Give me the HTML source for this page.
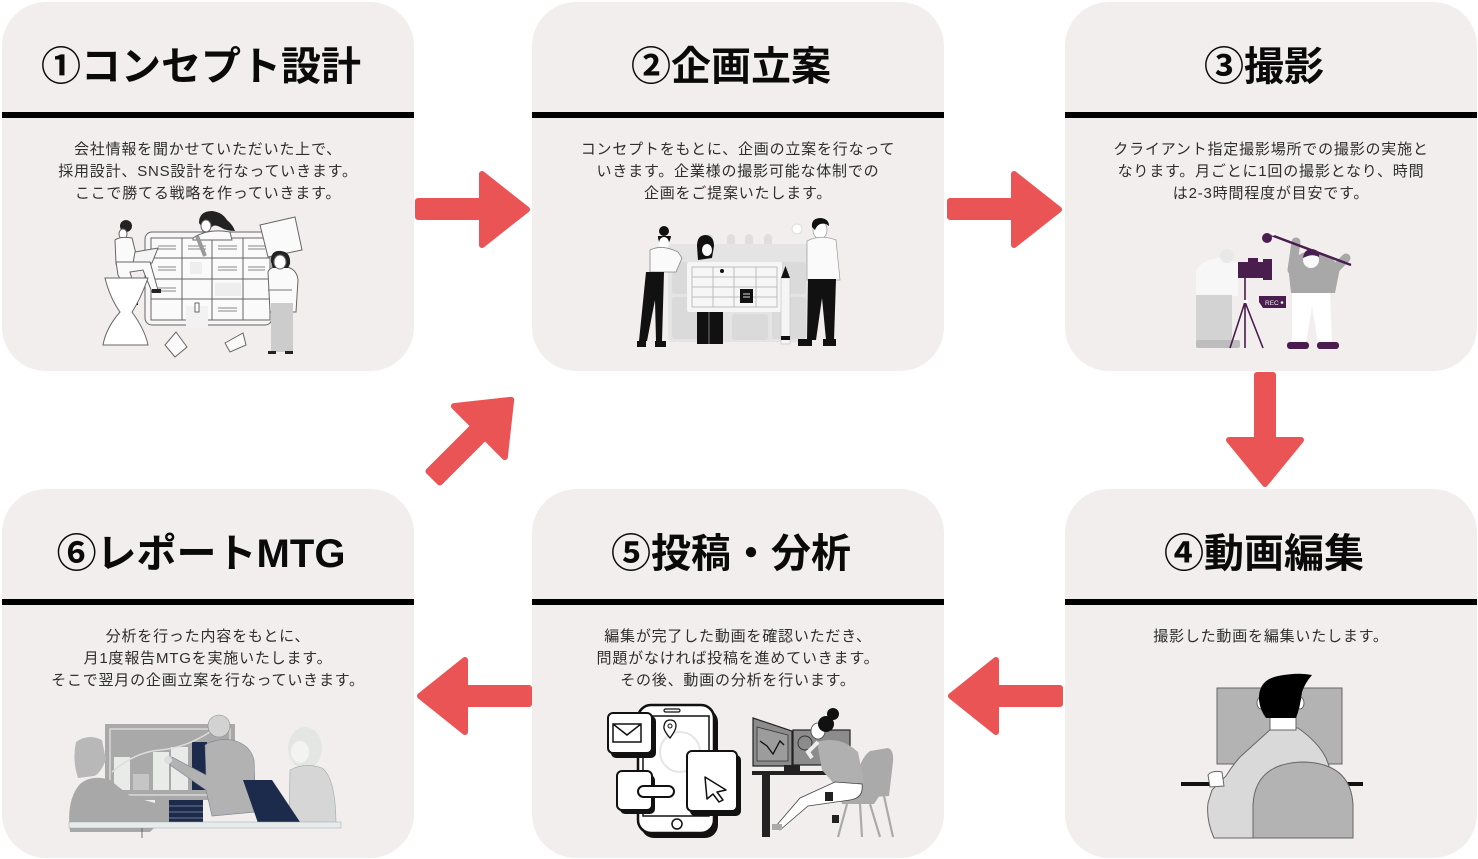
<!DOCTYPE html>
<html><head><meta charset="utf-8">
<style>
html,body{margin:0;padding:0;background:#fff;}
body{width:1478px;height:859px;position:relative;overflow:hidden;}
svg{position:absolute;left:0;top:0;}
.t{position:absolute;width:412px;text-align:center;font-family:"Liberation Sans","Noto Sans CJK JP",sans-serif;font-weight:700;font-size:40px;line-height:40px;color:#0a0a0a;white-space:nowrap;}
.d{position:absolute;width:412px;text-align:center;font-family:"Liberation Sans","Noto Sans CJK JP",sans-serif;font-size:15px;line-height:22px;letter-spacing:0.8px;color:#2e2e2e;white-space:nowrap;}
</style></head><body>
<svg width="1478" height="859" viewBox="0 0 1478 859" xmlns="http://www.w3.org/2000/svg">
<!-- cards -->
<g fill="#F3EEEE">
<rect x="2" y="2" width="412" height="369" rx="44"/>
<rect x="532" y="2" width="412" height="369" rx="44"/>
<rect x="1065" y="2" width="412" height="369" rx="44"/>
<rect x="2" y="489" width="412" height="369" rx="44"/>
<rect x="532" y="489" width="412" height="369" rx="44"/>
<rect x="1065" y="489" width="412" height="369" rx="44"/>
</g>
<g fill="#000">
<rect x="2" y="112" width="412" height="6"/>
<rect x="532" y="112" width="412" height="6"/>
<rect x="1065" y="112" width="412" height="6"/>
<rect x="2" y="599" width="412" height="6"/>
<rect x="532" y="599" width="412" height="6"/>
<rect x="1065" y="599" width="412" height="6"/>
</g>
<!-- arrows -->
<g fill="#EB5454" stroke="#EB5454" stroke-width="6" stroke-linejoin="round">
<path d="M418 201H482V174L527 209.5L482 245V217H418Z"/>
<path d="M950 201H1014V174L1059 209.5L1014 245V217H950Z"/>
<path d="M529 688H465V660L420 696L465 732V704H529Z"/>
<path d="M1060 688H996V660L951 696L996 732V704H1060Z"/>
<path d="M1257 375V440H1229L1265 484L1301 440H1273V375Z"/>
<path transform="translate(432,479) rotate(-45)" d="M3 -8H67V-36L112 0L67 36V8H3Z"/>
</g>

<!-- ===== Card 1 illustration ===== -->
<g stroke="#666" stroke-width="1">
<rect x="145" y="232" width="127" height="93" rx="7" fill="#f7f5f5"/>
<rect x="151" y="238" width="119" height="82" fill="#fafafa"/>
<path d="M182 238V320M212 238V320M243 238V320M151 258H270M151 279H270M151 299H270" fill="none"/>
<path d="M158 246H176M158 249H176M188 246H206M188 249H206M218 246H237M218 249H237M248 246H265M248 249H265M158 267H176M158 270H176M218 267H237M218 270H237M248 267H265M248 270H265M158 288H176M158 291H176M218 308H237M218 311H237" stroke="#888" fill="none"/>
<rect x="190" y="262" width="12" height="12" fill="#eeeeee" stroke="none"/>
<rect x="215" y="283" width="26" height="13" fill="#eeeeee" stroke="none"/>
<rect x="186" y="306" width="22" height="22" fill="#f2f2f2" stroke="none"/>
<rect x="195" y="303" width="4" height="9" fill="#fff"/>
<polygon points="260,225 295,217 302,250 268,257" fill="#fafafa"/>
<!-- top woman -->
<path d="M193 238Q208 228 230 232L232 240L193 240Z" fill="#fafafa"/>
<path d="M199 223Q199 211 212 211Q222 212 227 220Q233 225 235 231Q226 231 220 227Q214 224 212 227L204 230Z" fill="#222" stroke="none"/>
<ellipse cx="206" cy="226" rx="5" ry="6" fill="#fff"/>
<path d="M197 236L205 256" stroke="#999" stroke-width="4"/>
<!-- sitting woman -->
<circle cx="126" cy="226" r="6" fill="#222" stroke="none"/>
<ellipse cx="123" cy="234" rx="4" ry="5" fill="#fff"/>
<path d="M115 240Q120 236 132 238L138 262L116 264Z" fill="#fafafa"/>
<path d="M135 252L158 248L152 263L133 263Z" fill="#f4f4f4"/>
<path d="M116 262L150 262L158 290L152 292L143 270L130 272L138 300L132 302L118 275Z" fill="#fafafa"/>
<rect x="152" y="289" width="9" height="4" fill="#222" stroke="none"/>
<rect x="129" y="301" width="9" height="4" fill="#222" stroke="none"/>
<!-- stool -->
<path d="M105 278L148 278Q140 300 132 312Q145 330 148 345L103 345Q106 328 120 312Q110 298 105 278Z" fill="#fff"/>
<!-- standing woman -->
<path d="M268 272Q270 266 283 266Q297 268 298 280L296 312L270 312Z" fill="#fafafa"/>
<rect x="271" y="303" width="22" height="49" fill="#cccccc" stroke="none"/>
<path d="M271 262Q270 250 281 251Q291 252 290 264L288 268L273 268Z" fill="#222" stroke="none"/>
<ellipse cx="280" cy="262" rx="6" ry="7" fill="#fff"/>
<path d="M268 290H292" stroke="#777"/>
<rect x="268" y="351" width="8" height="3" fill="#222" stroke="none"/>
<rect x="285" y="351" width="8" height="3" fill="#222" stroke="none"/>
<!-- papers -->
<polygon points="165,345 176,332 187,347 175,357" fill="#fafafa"/>
<polygon points="225,343 243,333 246,345 230,352" fill="#fafafa"/>
</g>

<!-- ===== Card 2 illustration ===== -->
<g>
<rect x="705" y="234" width="8" height="14" rx="4" fill="#dedede"/>
<rect x="727" y="234" width="8" height="14" rx="4" fill="#dedede"/>
<rect x="745" y="234" width="8" height="14" rx="4" fill="#dedede"/>
<rect x="764" y="234" width="8" height="14" rx="4" fill="#dedede"/>
<rect x="668" y="244" width="142" height="98" rx="4" fill="#e4e4e4"/>
<rect x="672" y="262" width="34" height="32" rx="3" fill="#dadada"/>
<rect x="672" y="297" width="34" height="42" rx="3" fill="#dadada"/>
<rect x="772" y="262" width="34" height="32" rx="3" fill="#dadada"/>
<rect x="772" y="297" width="34" height="42" rx="3" fill="#dadada"/>
<rect x="732" y="314" width="36" height="26" rx="3" fill="#dadada"/>
<rect x="687" y="262" width="95" height="50" rx="2" fill="#f6f6f6"/>
<path d="M692 267H777V307H692ZM713 267V307M734 267V307M756 267V307M692 277H777M692 287H777M692 297H777" fill="none" stroke="#bdbdbd" stroke-width="1"/>
<rect x="740" y="289" width="13" height="14" fill="#111"/>
<path d="M743 294H750M743 297H750" stroke="#ddd" stroke-width="1"/>
<circle cx="722" cy="271" r="2" fill="#111"/>
<!-- left woman -->
<circle cx="664" cy="231" r="5" fill="#111"/>
<path d="M658 236Q658 244 664 246Q670 244 671 236Z" fill="#111"/>
<ellipse cx="664" cy="243" rx="5" ry="6" fill="#fff"/>
<path d="M650 250Q662 244 678 252L682 258L676 272L650 272Z" fill="#fafafa" stroke="#888" stroke-width="0.8"/>
<path d="M646 272H664L662 341H656L655 300L647 341H639Z" fill="#111"/>
<rect x="637" y="341" width="9" height="6" fill="#111"/>
<rect x="655" y="341" width="11" height="6" fill="#111"/>
<!-- center woman -->
<path d="M697 246Q697 235 706 235Q714 236 714 246L712 258L698 260Z" fill="#111"/>
<ellipse cx="707" cy="250" rx="5" ry="6" fill="#fff"/>
<rect x="697" y="312" width="26" height="32" fill="#111"/>
<rect x="708" y="312" width="2" height="32" fill="#444"/>
<!-- pencil -->
<rect x="781" y="278" width="9" height="66" fill="#f5f5f5" stroke="#ccc" stroke-width="0.8"/>
<polygon points="781,278 790,278 785.5,266" fill="#111"/>
<rect x="781" y="336" width="9" height="4" fill="#111"/>
<!-- man -->
<circle cx="797" cy="229" r="5" fill="#fff" stroke="#ddd"/>
<ellipse cx="820" cy="230" rx="7" ry="9" fill="#fff" stroke="#999" stroke-width="0.7"/>
<path d="M812 227Q811 218 821 218Q829 219 829 226L826 224Q818 222 815 230Z" fill="#111"/>
<path d="M807 241Q820 234 836 240L840 280L807 280Z" fill="#fafafa" stroke="#999" stroke-width="0.7"/>
<path d="M808 279H836L834 340H826L822 298L816 340H807Z" fill="#111"/>
<rect x="798" y="339" width="14" height="7" fill="#111"/>
<rect x="823" y="339" width="13" height="7" fill="#111"/>
</g>

<!-- ===== Card 3 illustration ===== -->
<g>
<path d="M1196 270Q1204 258 1222 258L1238 263L1238 296L1196 296Z" fill="#f7f7f7"/>
<circle cx="1227" cy="256" r="7" fill="#e8e8e8"/>
<rect x="1196" y="295" width="36" height="52" fill="#d3d3d3"/>
<rect x="1196" y="340" width="44" height="8" rx="2" fill="#bdbdbd"/>
<path d="M1238 262H1248V258H1258V262H1263V259H1272V280H1263V278H1238Z" fill="#4a1d4f"/>
<path d="M1245 278V302M1245 302L1230 348M1245 302V348M1245 302L1263 348" stroke="#4a1d4f" stroke-width="1.6" fill="none"/>
<rect x="1244" y="300" width="4" height="3" fill="#fff"/>
<path d="M1259 296H1286V308H1263L1259 302Z" fill="#4a1d4f"/>
<text x="1265" y="305" font-family="Liberation Sans, sans-serif" font-size="6.5" fill="#eee">REC</text>
<circle cx="1282" cy="302.5" r="1.3" fill="#fff"/>
<!-- boom man -->
<path d="M1292 270L1296 242M1336 268L1346 258" stroke="#a8a8a8" stroke-width="9" stroke-linecap="round"/>
<path d="M1288 265Q1300 250 1312 252Q1330 252 1340 268L1335 293L1291 293Z" fill="#a8a8a8"/>
<circle cx="1311" cy="260" r="8" fill="#fafafa"/>
<path d="M1303 258Q1304 249 1312 249Q1320 250 1319 257Q1312 253 1303 258Z" fill="#4a1d4f"/>
<path d="M1292 293H1330L1332 343H1318L1312 306L1306 343H1292Z" fill="#fff"/>
<rect x="1287" y="342" width="22" height="7" rx="3" fill="#4a1d4f"/>
<rect x="1317" y="342" width="22" height="7" rx="3" fill="#4a1d4f"/>
<line x1="1271" y1="235" x2="1351" y2="265" stroke="#4a1d4f" stroke-width="2.5"/>
<circle cx="1267" cy="238" r="5" fill="#4a1d4f"/>
<circle cx="1273" cy="234" r="1.8" fill="#fff"/>
</g>

<!-- ===== Card 4 illustration ===== -->
<g stroke="#666" stroke-width="1">
<rect x="1217" y="688" width="125" height="76" fill="#b3b3b3"/>
<rect x="1181" y="782" width="182" height="4" fill="#111" stroke="none"/>
<path d="M1240 757Q1262 737 1272 728L1298 728Q1318 742 1326 758L1338 790L1340 838L1214 838Q1206 820 1208 803L1212 790L1226 776Q1232 766 1240 757Z" fill="#d9d9d9"/>
<path d="M1208 775Q1212 770 1222 772L1224 786L1210 787Z" fill="#fff"/>
<rect x="1270" y="714" width="26" height="16" fill="#fff"/>
<ellipse cx="1261" cy="703" rx="4" ry="6" fill="#fff"/>
<ellipse cx="1300" cy="703" rx="4" ry="6" fill="#fff"/>
<path d="M1259 700Q1258 680 1278 676Q1298 672 1312 675Q1305 683 1302 692Q1300 708 1296 718L1266 718Q1260 710 1259 700Z" fill="#000" stroke="none"/>
<path d="M1253 838V805Q1255 763 1303 762Q1351 763 1353 805V838Z" fill="#b3b3b3"/>
</g>

<!-- ===== Card 5 illustration ===== -->
<g>
<rect x="641" y="709" width="77" height="129" rx="13" fill="#111"/>
<rect x="638" y="705" width="76" height="128" rx="13" fill="#fff" stroke="#111" stroke-width="2.5"/>
<rect x="643" y="716" width="66" height="100" fill="none" stroke="#111" stroke-width="1.5"/>
<rect x="664" y="709" width="16" height="3" rx="1.5" fill="none" stroke="#111" stroke-width="1.2"/>
<circle cx="677" cy="824" r="5" fill="#fff" stroke="#111" stroke-width="1.5"/>
<circle cx="680" cy="752" r="20" fill="none" stroke="#e6e6e6" stroke-width="2"/>
<path d="M670 738Q663 730 664 726Q665 720 670 720Q676 720 676 726Q676 730 670 738Z" fill="#fff" stroke="#111" stroke-width="1.3"/>
<circle cx="670" cy="726" r="2" fill="none" stroke="#111" stroke-width="1"/>
<rect x="611" y="716" width="45" height="42" rx="5" fill="#111"/>
<rect x="608" y="713" width="44" height="40" rx="5" fill="#fff" stroke="#111" stroke-width="2"/>
<path d="M613 724H641V742H613ZM613 724L627 735L641 724" fill="none" stroke="#111" stroke-width="1.5"/>
<rect x="690" y="755" width="51" height="61" rx="5" fill="#111"/>
<rect x="687" y="751" width="50" height="60" rx="5" fill="#fff" stroke="#111" stroke-width="2"/>
<path d="M705 777L726 790L717 792L723 800L719 802L713 794L707 799Z" fill="#fff" stroke="#111" stroke-width="1.5" stroke-linejoin="round"/>
<rect x="620" y="775" width="35" height="39" rx="5" fill="#111"/>
<rect x="617" y="771" width="35" height="39" rx="5" fill="#fff" stroke="#111" stroke-width="2"/>
<rect x="638" y="786" width="36" height="11" rx="5.5" fill="#fff" stroke="#111" stroke-width="2"/>
<!-- desk -->
<polygon points="753,718 792,731 792,766 753,766" fill="#8c8c8c" stroke="#222" stroke-width="1.2"/>
<polygon points="757,727 788,735 788,761 757,761" fill="#9c9c9c" stroke="#333" stroke-width="0.8"/>
<path d="M760 741L767 746L773 754L780 741L784 745" fill="none" stroke="#111" stroke-width="1.3"/>
<rect x="793" y="730" width="57" height="35" fill="#8c8c8c" stroke="#222" stroke-width="1.2"/>
<circle cx="805" cy="743" r="7" fill="none" stroke="#333" stroke-width="1"/>
<rect x="784" y="765" width="16" height="7" fill="#222"/>
<rect x="752" y="771" width="78" height="4" fill="#222"/>
<rect x="762" y="775" width="8" height="62" fill="#222"/>
<!-- chair -->
<path d="M857 798Q855 762 870 751L888 748Q894 750 893 762L889 796Z" fill="#aaaaaa"/>
<path d="M840 795H880L874 804H842Z" fill="#aaaaaa"/>
<path d="M847 804L838 837M870 804L880 837M884 796L893 837M860 804L862 837" stroke="#aaaaaa" stroke-width="2.2"/>
<!-- woman -->
<path d="M817 742Q840 735 858 752L864 782L835 785L822 770Z" fill="#b0b0b0"/>
<path d="M835 782L862 784Q864 798 850 800L808 806L780 830L776 826L800 798Z" fill="#fff" stroke="#444" stroke-width="0.8"/>
<rect x="772" y="824" width="10" height="6" fill="#aaa"/>
<rect x="825" y="792" width="8" height="9" fill="#222"/>
<rect x="832" y="815" width="7" height="8" fill="#222"/>
<ellipse cx="818" cy="731" rx="7" ry="8" fill="#fff" stroke="#444" stroke-width="0.8"/>
<circle cx="826" cy="724" r="8" fill="#111"/>
<circle cx="833" cy="714" r="6" fill="#111"/>
<path d="M818 742L808 752L812 758" fill="none" stroke="#eee" stroke-width="4"/>
</g>

<!-- ===== Card 6 illustration ===== -->
<g>
<rect x="105" y="724" width="130" height="76" fill="#a9a9a9"/>
<rect x="110" y="729" width="120" height="66" fill="none" stroke="#d8d8d8" stroke-width="1.5"/>
<rect x="114" y="757" width="16" height="33" fill="#e9ebe9"/>
<rect x="133" y="774" width="16" height="16" fill="#c5c5c5"/>
<rect x="153" y="752" width="16" height="38" fill="#e9ebe9"/>
<rect x="171" y="747" width="17" height="43" fill="#e9ebe9"/>
<rect x="192" y="742" width="15" height="48" fill="#1c2b4b"/>
<path d="M112 772Q135 752 160 750Q185 748 210 732" fill="none" stroke="#dcdcdc" stroke-width="1.5"/>
<!-- left woman -->
<path d="M76 742Q88 733 102 740L106 760Q100 774 94 776L78 778Q72 760 76 742Z" fill="#b8b8b8"/>
<path d="M70 832Q66 800 80 784Q92 774 110 780L130 796L162 805L160 822L150 832Z" fill="#a8a8a8"/>
<!-- man -->
<path d="M205 745Q215 738 232 740Q250 744 254 760L256 812L212 816L206 790L170 765L172 757L206 775Z" fill="#b2b2b2" stroke="#7a8090" stroke-width="0.6"/>
<circle cx="219" cy="726" r="11" fill="#d2d2d2" stroke="#8a8a8a" stroke-width="0.6"/>
<circle cx="168" cy="760" r="4" fill="#ddd"/>
<!-- right woman -->
<ellipse cx="305" cy="748" rx="17" ry="21" fill="#e4e6e4"/>
<ellipse cx="300" cy="752" rx="9" ry="11" fill="#f3f3f3"/>
<path d="M290 770Q305 762 322 768Q336 778 336 826L289 826Z" fill="#d6d6d6" stroke="#9aa" stroke-width="0.6"/>
<!-- laptop / stack -->
<rect x="167" y="800" width="36" height="23" fill="#1c2b4b"/>
<path d="M167 806H203M167 812H203M167 818H203" stroke="#8a93a5" stroke-width="0.8"/>
<rect x="155" y="796" width="14" height="30" fill="#a8a8a8"/>
<polygon points="243,780 272,780 300,822 318,823 258,823" fill="#1c2b4b"/>
<rect x="69" y="822" width="272" height="6" fill="#e8ebeb" stroke="#9aa" stroke-width="0.5"/>
<line x1="142" y1="828" x2="142" y2="838" stroke="#555" stroke-width="0.8"/>
</g>
</svg>

<div class="t" style="left:-5px;top:47px">①コンセプト設計</div>
<div class="t" style="left:525px;top:47px">②企画立案</div>
<div class="t" style="left:1058px;top:47px">③撮影</div>
<div class="t" style="left:-5px;top:534px">⑥レポートMTG</div>
<div class="t" style="left:525px;top:534px">⑤投稿・分析</div>
<div class="t" style="left:1058px;top:534px">④動画編集</div>

<div class="d" style="left:2px;top:139px">会社情報を聞かせていただいた上で、<br>採用設計、SNS設計を行なっていきます。<br>ここで勝てる戦略を作っていきます。</div>
<div class="d" style="left:532px;top:139px">コンセプトをもとに、企画の立案を行なって<br>いきます。企業様の撮影可能な体制での<br>企画をご提案いたします。</div>
<div class="d" style="left:1065px;top:139px">クライアント指定撮影場所での撮影の実施と<br>なります。月ごとに1回の撮影となり、時間<br>は2-3時間程度が目安です。</div>
<div class="d" style="left:2px;top:626px">分析を行った内容をもとに、<br>月1度報告MTGを実施いたします。<br>そこで翌月の企画立案を行なっていきます。</div>
<div class="d" style="left:532px;top:626px">編集が完了した動画を確認いただき、<br>問題がなければ投稿を進めていきます。<br>その後、動画の分析を行います。</div>
<div class="d" style="left:1065px;top:626px">撮影した動画を編集いたします。</div>
</body></html>
